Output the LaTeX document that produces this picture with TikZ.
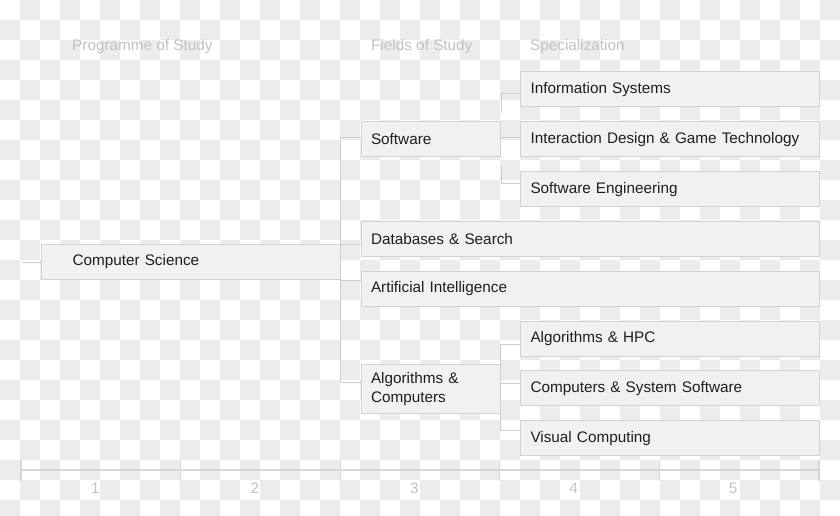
\documentclass[tikz,border=0pt]{standalone}
\usepackage{fontspec}
\setmainfont{Liberation Sans}
\usetikzlibrary{calc}
\definecolor{chk}{HTML}{ECECEC}
\definecolor{boxfill}{HTML}{F1F1F1}
\definecolor{boxline}{HTML}{D2D2D2}
\definecolor{linkc}{HTML}{CDCDCD}
\definecolor{axisc}{HTML}{D6D6D6}
\definecolor{hdr}{HTML}{C2C2C2}
\definecolor{txt}{HTML}{1E1E1E}
\begin{document}
\begin{tikzpicture}[x=1pt,y=-1pt,
  font=\fontsize{15.3}{18.7}\selectfont,
  box/.style={draw=boxline, fill=boxfill, line width=1pt, anchor=north west,
    inner xsep=10pt, inner ysep=0pt, text=txt, align=left, minimum height=35pt},
  link/.style={draw=linkc, line width=1pt},
  axisline/.style={draw=axisc, line width=1.3pt},
  hdrtxt/.style={text=hdr, anchor=west, inner sep=0pt},
  numtxt/.style={text=hdr, inner sep=0pt},
]
\useasboundingbox (0,0) rectangle (840,516);
% checkered background
\begin{scope}
\clip (0,0) rectangle (840,516);
\fill[white] (0,0) rectangle (840,516);
\foreach \j in {0,...,25}{
  \pgfmathtruncatemacro\off{mod(\j+1,2)}
  \foreach \i in {0,2,...,40}{
    \fill[chk] ({(\i+\off)*20},{\j*20}) rectangle ++(20,20);
  }
}
\end{scope}

% headers
\node[hdrtxt] (h1) at (72,47) {Programme of Study};
\node[hdrtxt] (h2) at (371,47) {Fields of Study};
\node[hdrtxt] (h3) at (530,47) {Specialization};

% boxes
\node[box, inner xsep=31pt, text width=237pt] (cs) at (41,244) {Computer Science};
\node[box, text width=119.5pt] (sw) at (360.5,121.3) {Software};
\node[box, text width=438.5pt] (db) at (360.5,220.9) {Databases \& Search};
\node[box, text width=438.5pt] (ai) at (360.5,270.7) {Artificial Intelligence};
\node[box, text width=119.5pt, minimum height=49.3pt] (ac) at (360.5,364) {Algorithms \&\\Computers};
\node[box, text width=279pt] (is) at (520,71.5) {Information Systems};
\node[box, text width=279pt] (idgt) at (520,121.3) {Interaction Design \& Game Technology};
\node[box, text width=279pt] (se) at (520,171.1) {Software Engineering};
\node[box, text width=279pt] (hpc) at (520,320.5) {Algorithms \& HPC};
\node[box, text width=279pt] (css) at (520,370.3) {Computers \& System Software};
\node[box, text width=279pt] (vc) at (520,420.1) {Visual Computing};

% connectors
\coordinate (csin) at (22,262);
\draw[link] (csin) -- (cs.west);
\draw[link] ([yshift=1.8pt]sw.west) -- ++(-20,0) |- ([yshift=6.5pt]ac.west);
\draw[link] ([yshift=-5.6pt]db.west) -- ++(-20,0);
\draw[link] ([yshift=8.2pt]ai.west) -- ++(-20,0);

\draw[link] ([yshift=-3.7pt]is.west) -| ([yshift=8.3pt]sw.north east);
\draw[link] ([yshift=2.1pt]idgt.west) -- ([yshift=2.1pt]idgt.west -| sw.east);
\draw[link] ([yshift=5.6pt]se.west) -| ([yshift=-8.7pt]sw.south east);

\draw[link] ([yshift=-6pt]hpc.west) -- ++(-20,0) |- ([yshift=7.6pt]vc.west);
\draw[link] ([yshift=4.8pt]css.west) -- ++(-20,0);

% axis
\coordinate (axL) at (21,470);
\coordinate (axR) at (819,470);
\draw[axisline] (axL) -- (axR);
\foreach \k in {0,...,5}{
  \draw[axisline] ({21+159.6*\k},460) -- ++(0,21);
}
\foreach \k/\n in {0/1,1/2,2/3,3/4,4/5}{
  \node[numtxt] (n\n) at ({95.5+159.4*\k},488) {\n};
}
\end{tikzpicture}
\end{document}
